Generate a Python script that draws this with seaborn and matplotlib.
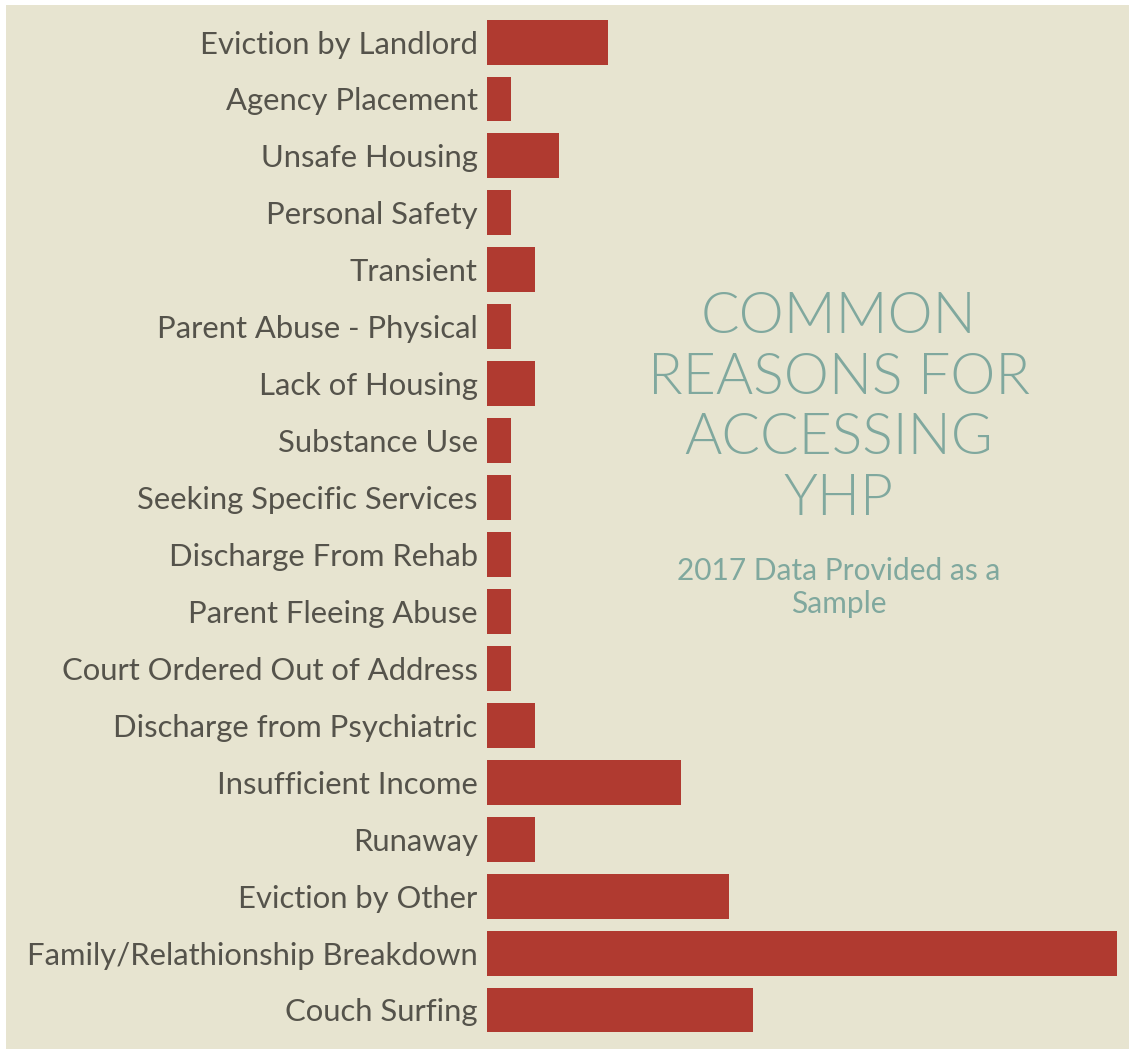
import matplotlib.pyplot as plt
import matplotlib.patches as mpatches
import pandas as pd
import seaborn as sns

reasons = [
    'Eviction by Landlord', 'Agency Placement', 'Unsafe Housing', 'Personal Safety',
    'Transient', 'Parent Abuse - Physical', 'Lack of Housing', 'Substance Use',
    'Seeking Specific Services', 'Discharge From Rehab', 'Parent Fleeing Abuse',
    'Court Ordered Out of Address', 'Discharge from Psychiatric', 'Insufficient Income',
    'Runaway', 'Eviction by Other', 'Family/Relathionship Breakdown', 'Couch Surfing',
]
counts = [5, 1, 3, 1, 2, 1, 2, 1, 1, 1, 1, 1, 2, 8, 2, 10, 26, 11]

title_lines = 'COMMON\nREASONS FOR\nACCESSING\nYHP'
subtitle = '2017 Data Provided as a\nSample'

bg = '#e7e4d0'
bar_color = '#b03a30'
label_color = '#55534b'
title_color = '#80a89e'

df = pd.DataFrame({'reason': reasons, 'count': counts})

sns.set_style('white')
plt.rcParams['font.family'] = ['Lato', 'DejaVu Sans']

fig = plt.figure(figsize=(11.32, 10.53), dpi=100)
fig.patch.set_facecolor('white')
# beige panel with a thin white frame
fig.patches.append(mpatches.Rectangle((0.005, 0.004), 0.992, 0.991, transform=fig.transFigure,
                                      facecolor=bg, edgecolor='none', zorder=-1))

ax = fig.add_axes([0.430, 0.0138, 0.5568, 0.9733])
ax.set_facecolor('none')
sns.barplot(data=df, y='reason', x='count', orient='h', color=bar_color,
            saturation=1, width=0.79, linewidth=0, ax=ax)

ax.set_xlim(0, 26)
ax.set_ylim(17.5, -0.5)
ax.set_xlabel('')
ax.set_ylabel('')
ax.set_xticks([])
ax.tick_params(axis='y', length=0, pad=6.5, labelsize=22.3, labelcolor=label_color)
for s in ax.spines.values():
    s.set_visible(False)

fig.text(0.741, 0.612, title_lines, ha='center', va='center', fontsize=41,
         fontweight=300, color=title_color, linespacing=1.24)
fig.text(0.741, 0.442, subtitle, ha='center', va='center', fontsize=21.5,
         color=title_color, linespacing=1.25)

fig.savefig('out.png', dpi=100, facecolor=fig.get_facecolor())
